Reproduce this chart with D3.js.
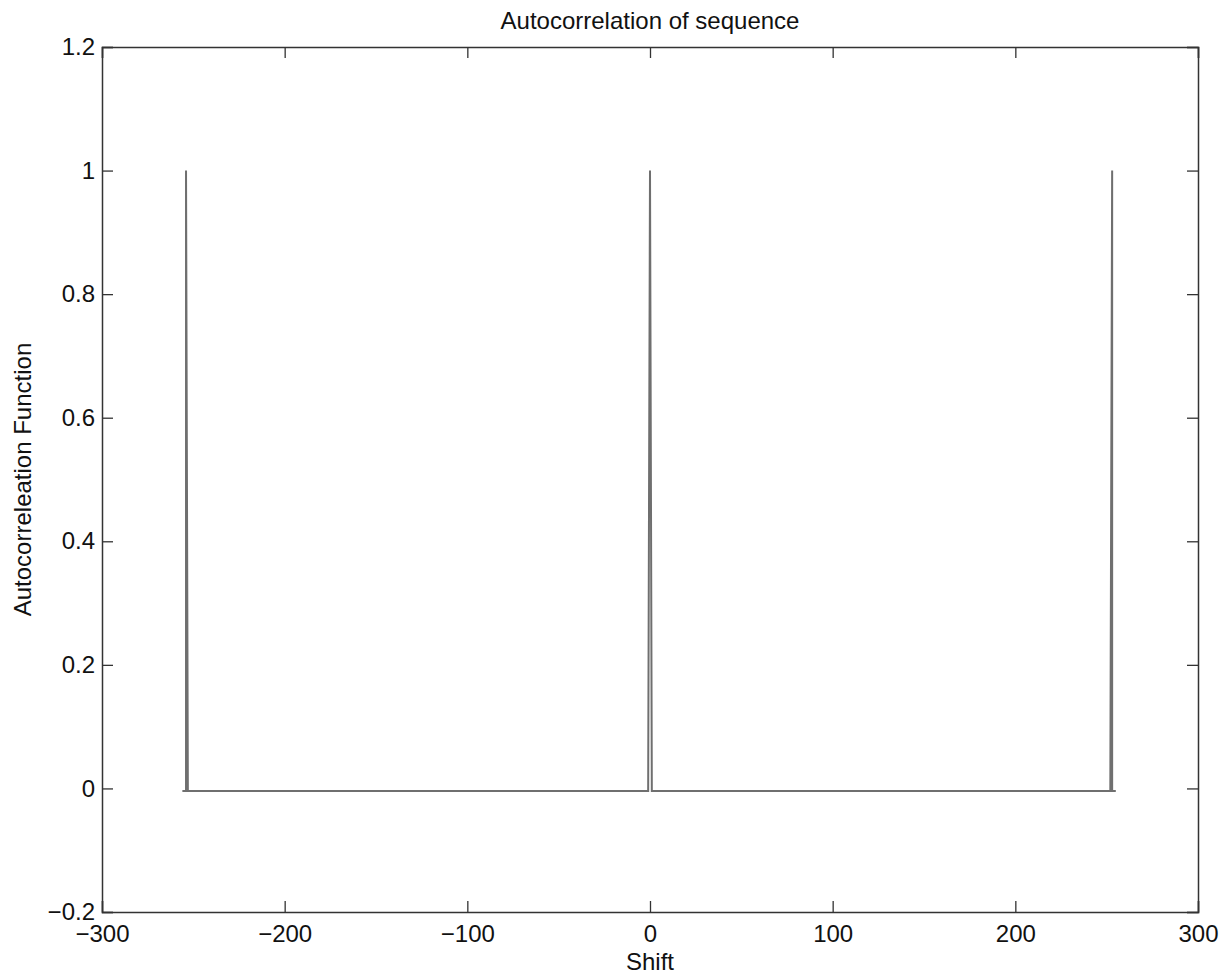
<!DOCTYPE html>
<html>
<head>
<meta charset="utf-8">
<script src="https://cdn.jsdelivr.net/npm/d3@7"></script>
<style>
  body { margin: 0; background: #fff; }
  text { font-family: "Liberation Sans", Arial, Helvetica, sans-serif; fill: #111; }
</style>
</head>
<body>
<div id="chart"></div>
<script>
// values (line passes through these points)
var shifts = [-256, -254, -254, -253, -1, 0, 1, 252, 253, 253, 255];
var acf    = [-0.004, -0.004, 1, -0.004, -0.004, 1, -0.004, -0.004, 1, -0.004, -0.004];
var xTicks = [-300, -200, -100, 0, 100, 200, 300];
var yTicks = [-0.2, 0, 0.2, 0.4, 0.6, 0.8, 1, 1.2];

var W = 1222, H = 974;
var margin = { top: 47, right: 24, bottom: 62, left: 102 };
var width = W - margin.left - margin.right;
var height = H - margin.top - margin.bottom;

var data = shifts.map(function(s, i) { return { shift: s, value: acf[i] }; });

var x = d3.scaleLinear().domain([-300, 300]).range([0, width]);
var y = d3.scaleLinear().domain([-0.2, 1.2]).range([height, 0]);

var svg = d3.select("#chart").append("svg")
    .attr("width", W)
    .attr("height", H);

var g = svg.append("g")
    .attr("transform", "translate(" + margin.left + "," + margin.top + ")");

// the data line
var line = d3.line()
    .x(function(d) { return x(d.shift); })
    .y(function(d) { return y(d.value); });

g.append("path")
    .datum(data)
    .attr("d", line)
    .attr("fill", "none")
    .attr("stroke", "#6f6f6f")
    .attr("stroke-width", 2);

// axes, MATLAB style: ticks pointing inwards on all four sides
var tickLen = 11;
var fmt = function(d) { return String(d).replace("-", "\u2212"); };

var xAxis = g.append("g")
    .attr("transform", "translate(0," + height + ")")
    .call(d3.axisBottom(x).tickValues(xTicks).tickSize(-tickLen).tickPadding(13).tickFormat(fmt));
var yAxis = g.append("g")
    .call(d3.axisLeft(y).tickValues(yTicks).tickSize(-tickLen).tickPadding(7).tickFormat(fmt));
var xTop = g.append("g")
    .call(d3.axisTop(x).tickValues(xTicks).tickSize(-tickLen).tickFormat(""));
var yRight = g.append("g")
    .attr("transform", "translate(" + width + ",0)")
    .call(d3.axisRight(y).tickValues(yTicks).tickSize(-tickLen).tickFormat(""));

[xAxis, yAxis, xTop, yRight].forEach(function(a) {
    a.select(".domain").attr("stroke", "#333").attr("stroke-width", 1.5);
    a.selectAll(".tick line").attr("stroke", "#333").attr("stroke-width", 1.3);
    a.selectAll(".tick text").style("font-size", "24px").attr("fill", "#111");
});

// titles
svg.append("text")
    .attr("x", margin.left + width / 2)
    .attr("y", 29)
    .attr("text-anchor", "middle")
    .style("font-size", "24px")
    .text("Autocorrelation of sequence");

svg.append("text")
    .attr("x", margin.left + width / 2)
    .attr("y", 970)
    .attr("text-anchor", "middle")
    .style("font-size", "24px")
    .text("Shift");

svg.append("text")
    .attr("transform", "rotate(-90)")
    .attr("x", -(margin.top + height / 2))
    .attr("y", 31)
    .attr("text-anchor", "middle")
    .style("font-size", "24px")
    .text("Autocorreleation Function");
</script>
</body>
</html>
